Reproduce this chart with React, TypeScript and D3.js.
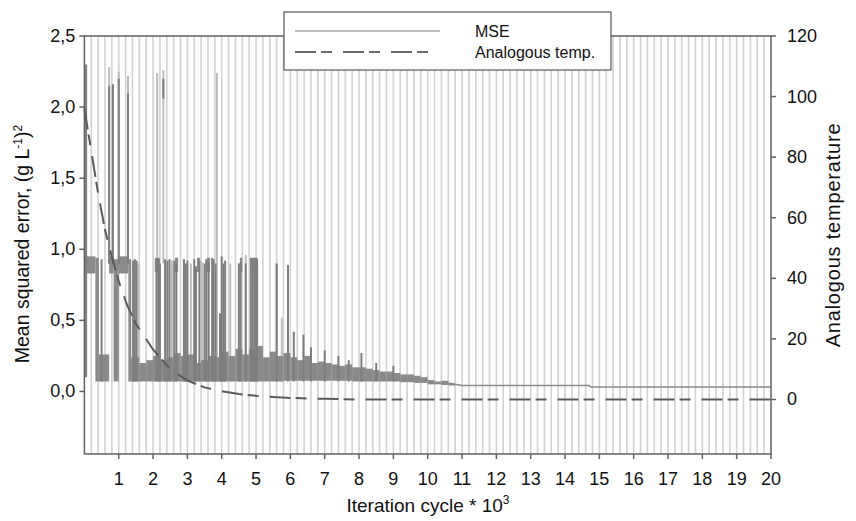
import React from "react";
import * as d3 from "d3";

// ---------- data ----------
const xTicks = [1, 2, 3, 4, 5, 6, 7, 8, 9, 10, 11, 12, 13, 14, 15, 16, 17, 18, 19, 20];
const yLeftTicks = [0, 0.5, 1, 1.5, 2, 2.5];
const yLeftLabels = ["0,0", "0,5", "1,0", "1,5", "2,0", "2,5"];
const yRightTicks = [0, 20, 40, 60, 80, 100, 120];

// dense MSE band segments: start, end, low, high (x in 10^3 cycles)
const bandStart = [0.0, 0.32, 0.42, 0.72, 0.85, 1.0, 1.28, 1.36, 1.6, 1.8, 2.0, 2.2, 2.4, 2.6, 2.8, 3.0, 3.2, 3.4, 3.6, 3.8, 4.0, 4.2, 4.4, 4.6, 4.8, 5.0, 5.2, 5.4, 5.6, 5.8, 6.0, 6.2, 6.4, 6.6, 6.8, 7.0, 7.2, 7.4, 7.6, 7.8, 8.0, 8.2, 8.4, 8.6, 8.8, 9.0, 9.2, 9.4, 9.6, 9.8, 10.0, 10.2, 10.4, 10.6];
const bandEnd = [0.32, 0.42, 0.72, 0.85, 1.0, 1.28, 1.36, 1.6, 1.8, 2.0, 2.2, 2.4, 2.6, 2.8, 3.0, 3.2, 3.4, 3.6, 3.8, 4.0, 4.2, 4.4, 4.6, 4.8, 5.0, 5.2, 5.4, 5.6, 5.8, 6.0, 6.2, 6.4, 6.6, 6.8, 7.0, 7.2, 7.4, 7.6, 7.8, 8.0, 8.2, 8.4, 8.6, 8.8, 9.0, 9.2, 9.4, 9.6, 9.8, 10.0, 10.2, 10.4, 10.6, 10.8];
const bandLo = [0.83, 0.07, 0.07, 0.83, 0.07, 0.83, 0.07, 0.07, 0.07, 0.07, 0.07, 0.07, 0.07, 0.07, 0.07, 0.07, 0.07, 0.07, 0.07, 0.07, 0.07, 0.07, 0.07, 0.07, 0.07, 0.07, 0.07, 0.07, 0.07, 0.075, 0.075, 0.075, 0.075, 0.075, 0.075, 0.075, 0.075, 0.075, 0.075, 0.07, 0.07, 0.07, 0.07, 0.07, 0.07, 0.07, 0.065, 0.065, 0.06, 0.06, 0.05, 0.05, 0.045, 0.042];
const bandHi = [0.95, 0.94, 0.26, 0.95, 0.93, 0.95, 0.93, 0.24, 0.2, 0.22, 0.25, 0.22, 0.24, 0.27, 0.25, 0.26, 0.2, 0.22, 0.25, 0.24, 0.28, 0.25, 0.3, 0.26, 0.3, 0.32, 0.24, 0.28, 0.25, 0.27, 0.24, 0.22, 0.25, 0.2, 0.21, 0.2, 0.19, 0.18, 0.19, 0.17, 0.17, 0.16, 0.15, 0.14, 0.14, 0.13, 0.12, 0.12, 0.11, 0.1, 0.08, 0.07, 0.075, 0.055];

// high-level caps (dense portions near 0.9)
const capStart = [2.05, 2.64, 3.28, 3.57, 4.53, 4.87];
const capEnd = [2.2, 2.73, 3.37, 3.66, 4.6, 5.05];
const capLo = [0.84, 0.84, 0.84, 0.84, 0.84, 0.84];
const capHi = [0.94, 0.94, 0.94, 0.94, 0.94, 0.94];

// dark vertical excursions: x, low, high
const darkX = [0.05, 0.72, 0.83, 1.0, 1.27, 2.3, 0.5, 1.42, 1.47, 1.52, 2.1, 2.15, 2.2, 2.35, 2.42, 2.48, 2.62, 2.68, 2.9, 2.95, 3.0, 3.2, 3.25, 3.35, 3.5, 3.55, 3.62, 3.72, 3.76, 3.82, 3.95, 4.0, 4.05, 4.1, 4.5, 4.55, 4.7, 4.85, 4.9, 4.95, 5.0, 5.03, 5.6, 5.93, 6.1, 6.38, 6.6, 7.0, 7.4, 7.7, 8.07, 8.5, 9.0];
const darkLo = [0.1, 0.9, 0.9, 0.9, 0.9, 2.06, 0.07, 0.07, 0.07, 0.07, 0.07, 0.07, 0.07, 0.07, 0.07, 0.07, 0.07, 0.07, 0.07, 0.07, 0.07, 0.07, 0.07, 0.07, 0.07, 0.07, 0.07, 0.07, 0.07, 0.07, 0.07, 0.07, 0.07, 0.07, 0.07, 0.07, 0.07, 0.07, 0.07, 0.07, 0.07, 0.07, 0.07, 0.07, 0.07, 0.07, 0.07, 0.07, 0.07, 0.07, 0.07, 0.07, 0.07];
const darkHi = [2.3, 2.15, 2.16, 2.2, 2.1, 2.2, 0.93, 0.92, 0.93, 0.92, 0.93, 0.93, 0.9, 0.93, 0.92, 0.93, 0.92, 0.9, 0.93, 0.9, 0.92, 0.93, 0.88, 0.92, 0.9, 0.93, 0.91, 0.94, 0.93, 0.9, 0.55, 0.95, 0.9, 0.92, 0.9, 0.91, 0.9, 0.94, 0.93, 0.94, 0.92, 0.93, 0.9, 0.89, 0.42, 0.4, 0.31, 0.29, 0.25, 0.22, 0.27, 0.2, 0.18];

// light vertical excursions: x, low, high
const lightX = [0.72, 0.83, 1.0, 1.27, 2.12, 2.3, 3.86, 4.7, 4.97, 5.6, 5.75, 1.58, 2.55, 3.1, 3.43, 4.25];
const lightLo = [0.9, 0.9, 0.9, 0.9, 0.9, 0.9, 0.07, 0.07, 0.07, 0.07, 0.07, 0.07, 0.07, 0.07, 0.07, 0.07];
const lightHi = [2.28, 2.16, 2.25, 2.22, 2.24, 2.26, 2.24, 0.96, 0.71, 0.9, 0.52, 0.9, 0.92, 0.9, 0.91, 0.9];

// converged MSE tail
const tailX = [10.6, 10.8, 11.0, 14.7, 14.75, 20];
const tailY = [0.06, 0.05, 0.042, 0.042, 0.032, 0.032];

// analogous temperature (right axis)
const tempX = [0, 0.2, 0.4, 0.6, 0.8, 1.0, 1.25, 1.5, 2.0, 2.5, 3.0, 3.5, 4.0, 4.5, 5.0, 5.5, 6.0, 7.0, 8.0, 20];
const tempY = [96, 82, 68, 56, 47, 39, 31, 25, 16.5, 10, 6.2, 4.0, 2.7, 1.8, 1.2, 0.8, 0.5, 0.2, 0, 0];

// vertical grid every 0.2 * 10^3 cycles
const gridX = d3.range(1, 100).map((i) => +(i * 0.2).toFixed(1));

// ---------- layout ----------
const W = 856, H = 521;
const L = 84.4, R = 771, T = 36, B = 454;
const FONT = "'Liberation Sans', Arial, sans-serif";

export default function App() {
  const x = d3.scaleLinear().domain([0, 20]).range([L, R]);
  const yL = d3.scaleLinear().domain([-0.44, 2.5]).range([B, T]);
  const yR = d3.scaleLinear().domain([-18, 120]).range([B, T]);

  const tempLine = d3.line<number>().x((_, i) => x(tempX[i])).y((_, i) => yR(tempY[i]))(tempX) || "";
  const tailLine = d3.line<number>().x((_, i) => x(tailX[i])).y((_, i) => yL(tailY[i]))(tailX) || "";

  const dash = "21 5 11 11";

  return (
    <svg width={W} height={H} style={{ position: "absolute", left: 0, top: 0, background: "#fff" }} fontFamily={FONT}>
      <rect x={0} y={0} width={W} height={H} fill="#fff" />
      {gridX.map((g, i) => (
        <line key={"g" + i} x1={x(g)} x2={x(g)} y1={T} y2={B} stroke="#d2d2d2" strokeWidth={1.6} />
      ))}
      {lightX.map((v, i) => (
        <line key={"l" + i} x1={x(v)} x2={x(v)} y1={yL(lightLo[i])} y2={yL(lightHi[i])} stroke="#bdbdbd" strokeWidth={2} />
      ))}
      {bandStart.map((s, i) => (
        <rect key={"b" + i} x={x(s)} width={x(bandEnd[i]) - x(s)} y={yL(bandHi[i])} height={yL(bandLo[i]) - yL(bandHi[i])} fill="#8a8a8a" />
      ))}
      {capStart.map((s, i) => (
        <rect key={"c" + i} x={x(s)} width={x(capEnd[i]) - x(s)} y={yL(capHi[i])} height={yL(capLo[i]) - yL(capHi[i])} fill="#8a8a8a" />
      ))}
      {darkX.map((v, i) => (
        <line key={"d" + i} x1={x(v)} x2={x(v)} y1={yL(darkLo[i])} y2={yL(darkHi[i])} stroke="#7e7e7e" strokeWidth={2} />
      ))}
      <path d={tailLine} fill="none" stroke="#8a8a8a" strokeWidth={1.5} />
      <path d={tempLine} fill="none" stroke="#5a5a5a" strokeWidth={2} strokeDasharray={dash} />

      <rect x={L} y={T} width={R - L} height={B - T} fill="none" stroke="#606060" strokeWidth={1.5} />

      {xTicks.map((t) => (
        <g key={"xt" + t}>
          <line x1={x(t)} x2={x(t)} y1={B} y2={B + 5} stroke="#606060" strokeWidth={1.5} />
          <text x={x(t)} y={485} textAnchor="middle" fontSize={18} fill="#111">{t}</text>
        </g>
      ))}
      <text x={428} y={512} textAnchor="middle" fontSize={19} fill="#111">
        Iteration cycle * 10<tspan dy={-8} fontSize={12}>3</tspan>
      </text>

      {yLeftTicks.map((t, i) => (
        <g key={"yl" + t}>
          <line x1={L - 5} x2={L} y1={yL(t)} y2={yL(t)} stroke="#606060" strokeWidth={1.5} />
          <text x={L - 9} y={yL(t) + 6} textAnchor="end" fontSize={18} fill="#111">{yLeftLabels[i]}</text>
        </g>
      ))}
      <text transform={`translate(29,${244}) rotate(-90)`} textAnchor="middle" fontSize={19.5} fill="#111">
        Mean squared error,  (g L<tspan dy={-7} fontSize={12}>-1</tspan><tspan dy={7}>)</tspan><tspan dy={-7} fontSize={12}>2</tspan>
      </text>

      {yRightTicks.map((t) => (
        <g key={"yr" + t}>
          <line x1={R} x2={R + 5} y1={yR(t)} y2={yR(t)} stroke="#606060" strokeWidth={1.5} />
          <text x={R + 16} y={yR(t) + 6} textAnchor="start" fontSize={18} fill="#111">{t}</text>
        </g>
      ))}
      <text transform={`translate(840,${235}) rotate(-90)`} textAnchor="middle" fontSize={20} letterSpacing={0.8} fill="#111">
        Analogous temperature
      </text>

      <rect x={284} y={12} width={327} height={58} fill="#fff" stroke="#555" strokeWidth={1.2} />
      <line x1={295} x2={440} y1={31} y2={31} stroke="#bdbdbd" strokeWidth={2} />
      <line x1={295} x2={430} y1={52} y2={52} stroke="#6a6a6a" strokeWidth={2} strokeDasharray={dash} />
      <text x={475} y={37} fontSize={16} fill="#111">MSE</text>
      <text x={475} y={58} fontSize={16} fill="#111">Analogous temp.</text>
    </svg>
  );
}
